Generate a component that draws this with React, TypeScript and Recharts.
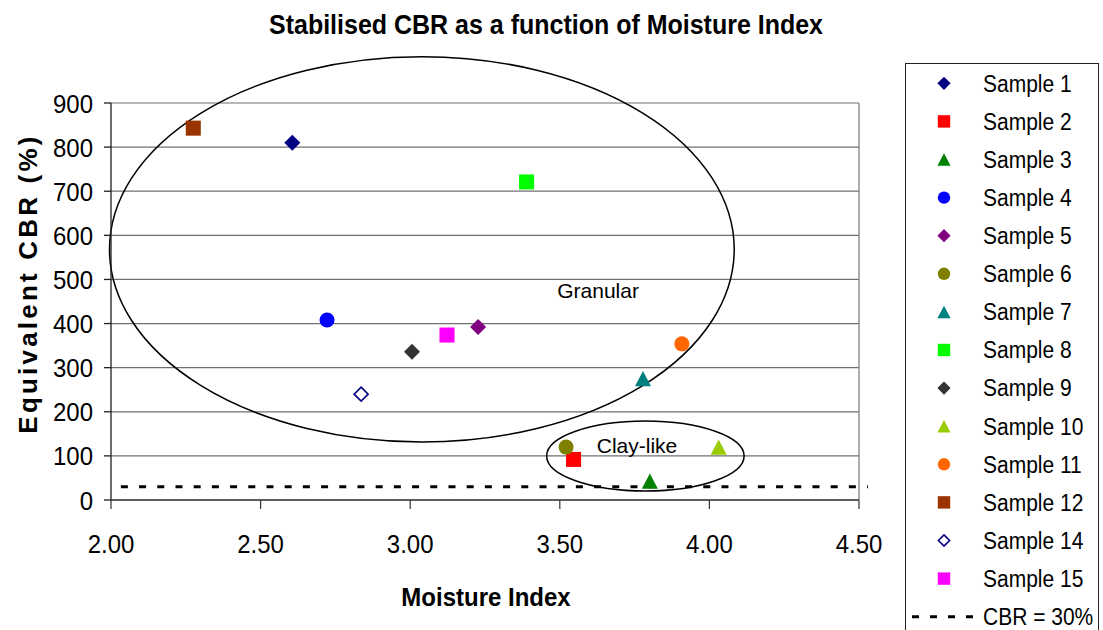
import React from 'react';
import {
  ScatterChart,
  Scatter,
  XAxis,
  YAxis,
  CartesianGrid,
  ReferenceLine,
  ReferenceArea,
  ReferenceDot,
  Legend,
  Customized,
} from 'recharts';

// ---- data ----
const sampleNames = [
  'Sample 1', 'Sample 2', 'Sample 3', 'Sample 4', 'Sample 5', 'Sample 6', 'Sample 7',
  'Sample 8', 'Sample 9', 'Sample 10', 'Sample 11', 'Sample 12', 'Sample 14', 'Sample 15',
];
const moistureIndex = [2.606, 3.546, 3.801, 2.722, 3.227, 3.521, 3.778, 3.389, 3.006, 4.031, 3.908, 2.275, 2.836, 3.123];
const equivalentCbr = [810, 92, 43, 408, 392, 120, 275, 721, 336, 120, 354, 843, 240, 374];

const xTicks = [2, 2.5, 3, 3.5, 4, 4.5];
const yTicks = [0, 100, 200, 300, 400, 500, 600, 700, 800, 900];

const limitLabel = 'CBR = 30%';
const cbrLimit = 30;
const limitStart = 2.033;
const limitEnd = 4.53;

// zone outlines (data bounds of each ellipse)
const granularZone = { x1: 1.995, x2: 4.083, y1: 131.5, y2: 1005 };
const clayZone = { x1: 3.456, x2: 4.116, y1: 20.4, y2: 179 };
const zoneLabels = [
  { text: 'Granular', x: 3.628, y: 474 },
  { text: 'Clay-like', x: 3.758, y: 122.5 },
];

// ---- styling ----
type Kind = 'diamond' | 'square' | 'triangle' | 'circle';
const markerKinds: Kind[] = [
  'diamond', 'square', 'triangle', 'circle', 'diamond', 'circle', 'triangle',
  'square', 'diamond', 'triangle', 'circle', 'square', 'diamond', 'square',
];
const markerFills = [
  '#000080', '#FF0000', '#008000', '#0000FF', '#800080', '#808000', '#008080',
  '#00FF00', '#333333', '#99CC00', '#FF6600', '#993300', '#FFFFFF', '#FF00FF',
];
const markerStrokes = [
  'none', 'none', 'none', 'none', 'none', 'none', 'none',
  'none', 'none', 'none', 'none', 'none', '#000080', 'none',
];

const FONT = '"Liberation Sans", Arial, Helvetica, sans-serif';
const STRETCH = 1.1; // text is drawn slightly tall

// text drawn with its baseline at (x, y), stretched vertically
function TallText({ x, y, children, size, anchor = 'start', bold = false }: any) {
  return (
    <text
      transform={`translate(${x} ${y}) scale(1 ${STRETCH})`}
      x={0}
      y={0}
      textAnchor={anchor}
      fontFamily={FONT}
      fontWeight={bold ? 'bold' : 'normal'}
      fontSize={size}
      fill="#000"
    >
      {children}
    </text>
  );
}

function Marker({ kind, cx, cy, s, fill, stroke }: { kind: Kind; cx: number; cy: number; s: number; fill: string; stroke: string }) {
  const sw = stroke === 'none' ? 0 : 1.6;
  if (kind === 'diamond') {
    const d = stroke === 'none' ? s : s - 1;
    return (
      <polygon
        points={`${cx},${cy - d} ${cx + d},${cy} ${cx},${cy + d} ${cx - d},${cy}`}
        fill={fill}
        stroke={stroke}
        strokeWidth={sw}
      />
    );
  }
  if (kind === 'square') {
    const h = s * 0.94;
    return <rect x={cx - h} y={cy - h} width={2 * h} height={2 * h} fill={fill} />;
  }
  if (kind === 'circle') {
    return <circle cx={cx} cy={cy} r={s * 0.94} fill={fill} />;
  }
  const hh = s * 0.95;
  return (
    <polygon points={`${cx},${cy - hh} ${cx + s},${cy + hh} ${cx - s},${cy + hh}`} fill={fill} />
  );
}

const makeShape = (i: number) => (props: any) => (
  <Marker
    kind={markerKinds[i]}
    cx={props.cx}
    cy={props.cy}
    s={8}
    fill={markerFills[i]}
    stroke={markerStrokes[i]}
  />
);

const EllipseShape = (props: any) => {
  const { x, y, width, height } = props;
  return (
    <ellipse
      cx={x + width / 2}
      cy={y + height / 2}
      rx={Math.abs(width) / 2}
      ry={Math.abs(height) / 2}
      fill="none"
      stroke="#000"
      strokeWidth={1.5}
    />
  );
};

const XTick = (props: any) => {
  const { x, y, payload } = props;
  return (
    <TallText x={x} y={y + 20} size={24} anchor="middle">
      {Number(payload.value).toFixed(2)}
    </TallText>
  );
};

const YTick = (props: any) => {
  const { x, y, payload } = props;
  return (
    <TallText x={x} y={y + 9.5} size={24} anchor="end">
      {payload.value}
    </TallText>
  );
};

const LEGEND_W = 194;
const LEGEND_H = 580;
const ROW0 = 20.3;
const ROW_STEP = 38.1;

const LegendBox = () => (
  <div
    style={{
      width: LEGEND_W,
      height: LEGEND_H,
      border: '1.5px solid #222',
      boxSizing: 'border-box',
      background: '#fff',
      position: 'relative',
    }}
  >
    <svg width={LEGEND_W} height={LEGEND_H} style={{ position: 'absolute', left: -1.5, top: -1.5 }}>
      {sampleNames.map((name, i) => {
        const cy = ROW0 + i * ROW_STEP;
        return (
          <g key={name}>
            <Marker kind={markerKinds[i]} cx={39} cy={cy} s={6.6} fill={markerFills[i]} stroke={markerStrokes[i]} />
            <TallText x={78} y={cy + 8.3} size={21}>
              {name}
            </TallText>
          </g>
        );
      })}
      <line
        x1={7}
        x2={68}
        y1={ROW0 + sampleNames.length * ROW_STEP}
        y2={ROW0 + sampleNames.length * ROW_STEP}
        stroke="#000"
        strokeWidth={3}
        strokeDasharray="7 11"
      />
      <TallText x={78} y={ROW0 + sampleNames.length * ROW_STEP + 8.3} size={21}>
        {limitLabel}
      </TallText>
    </svg>
  </div>
);

const Titles = () => (
  <g>
    <TallText x={546} y={34} size={25} anchor="middle" bold>
      Stabilised CBR as a function of Moisture Index
    </TallText>
    <TallText x={486} y={606} size={24} anchor="middle" bold>
      Moisture Index
    </TallText>
    <text
      x={37}
      y={283.5}
      transform="rotate(-90 37 283.5)"
      textAnchor="middle"
      fontFamily={FONT}
      fontWeight="bold"
      fontSize={26}
      letterSpacing={3.2}
      fill="#000"
    >
      Equivalent CBR (%)
    </text>
  </g>
);

export default function App() {
  return (
    <div style={{ position: 'absolute', left: 0, top: 0, width: 1103, height: 630, background: '#fff', overflow: 'hidden' }}>
      <ScatterChart
        width={1103}
        height={630}
        margin={{ top: 103, right: 244, bottom: 70, left: 0 }}
        style={{ fontFamily: FONT }}
      >
        <CartesianGrid horizontal vertical={false} stroke="#707070" strokeWidth={1.2} />
        <XAxis
          type="number"
          dataKey="x"
          domain={[2, 4.5]}
          ticks={xTicks}
          height={60}
          tickSize={9}
          tickMargin={24}
          axisLine={{ stroke: '#404040', strokeWidth: 1.3 }}
          tickLine={{ stroke: '#404040', strokeWidth: 1.3 }}
          tick={XTick}
          allowDataOverflow
        />
        <YAxis
          type="number"
          dataKey="y"
          domain={[0, 900]}
          ticks={yTicks}
          width={111}
          tickSize={7}
          tickMargin={11}
          axisLine={{ stroke: '#202020', strokeWidth: 1.3 }}
          tickLine={{ stroke: '#202020', strokeWidth: 1.3 }}
          tick={YTick}
          allowDataOverflow
        />
        <ReferenceLine x={4.5} stroke="#808080" strokeWidth={1.3} />
        <ReferenceArea {...granularZone} ifOverflow="visible" shape={EllipseShape} />
        <ReferenceArea {...clayZone} ifOverflow="visible" shape={EllipseShape} />
        <ReferenceLine
          segment={[{ x: limitStart, y: cbrLimit }, { x: limitEnd, y: cbrLimit }]}
          ifOverflow="visible"
          stroke="#000"
          strokeWidth={3}
          strokeDasharray="7 11.2"
        />
        {zoneLabels.map((z) => (
          <ReferenceDot
            key={z.text}
            x={z.x}
            y={z.y}
            r={0}
            stroke="none"
            fill="none"
            label={{ value: z.text, position: 'center', fontSize: 21, fill: '#000', fontFamily: FONT }}
          />
        ))}
        {sampleNames.map((name, i) => (
          <Scatter
            key={name}
            name={name}
            data={[{ x: moistureIndex[i], y: equivalentCbr[i] }]}
            shape={makeShape(i)}
            isAnimationActive={false}
          />
        ))}
        <Legend
          layout="vertical"
          align="center"
          verticalAlign="middle"
          content={LegendBox}
          wrapperStyle={{ left: 905, top: 63, width: LEGEND_W, height: LEGEND_H }}
        />
        <Customized component={Titles} />
      </ScatterChart>
    </div>
  );
}
